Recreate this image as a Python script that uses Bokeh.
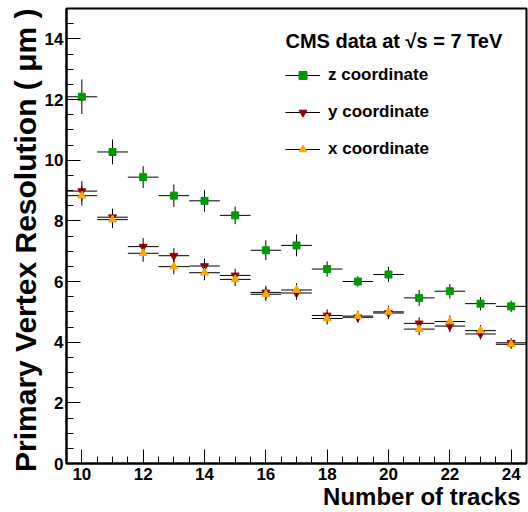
from bokeh.plotting import figure
from bokeh.models import (ColumnDataSource, Range1d, SingleIntervalTicker, Label,
                          Legend, LegendItem, Title)
from bokeh.embed import file_html
from bokeh.resources import INLINE

# ---- data ----
ntracks = [10, 11, 12, 13, 14, 15, 16, 17, 18, 19, 20, 21, 22, 23, 24]
bin_half_width = 0.5
z_res = [12.09, 10.27, 9.44, 8.83, 8.66, 8.18, 7.03, 7.19, 6.41, 6.00, 6.23, 5.46, 5.68, 5.27, 5.18]
z_err = [0.57, 0.41, 0.36, 0.37, 0.36, 0.29, 0.33, 0.36, 0.25, 0.17, 0.25, 0.26, 0.24, 0.22, 0.19]
y_res = [8.98, 8.12, 7.15, 6.85, 6.51, 6.20, 5.64, 5.62, 4.88, 4.82, 4.96, 4.62, 4.53, 4.27, 3.98]
y_err = [0.33, 0.28, 0.28, 0.25, 0.25, 0.22, 0.22, 0.22, 0.20, 0.18, 0.20, 0.20, 0.20, 0.18, 0.15]
x_res = [8.83, 8.04, 6.93, 6.49, 6.29, 6.07, 5.58, 5.72, 4.78, 4.86, 5.00, 4.43, 4.68, 4.38, 3.93]
x_err = [0.33, 0.28, 0.28, 0.25, 0.25, 0.22, 0.22, 0.22, 0.20, 0.18, 0.20, 0.20, 0.20, 0.18, 0.15]

series_names = ["z coordinate", "y coordinate", "x coordinate"]
header_text = "CMS data at \u221as = 7 TeV"
x_title = "Number of tracks"
y_title = "Primary Vertex Resolution ( \u03bcm )"

FONT = "Liberation Sans"

p = figure(width=528, height=512, output_backend="svg", toolbar_location=None,
           x_range=Range1d(9.5, 24.5), y_range=Range1d(0, 15),
           min_border_left=66, min_border_right=2, min_border_top=8, min_border_bottom=49)
p.xgrid.visible = False
p.ygrid.visible = False
p.outline_line_color = "black"
p.outline_line_width = 2
p.background_fill_color = "white"
p.border_fill_color = "white"

for ax in (p.xaxis[0], p.yaxis[0]):
    ax.ticker = SingleIntervalTicker(interval=2, num_minor_ticks=4)
    ax.axis_line_color = "black"
    ax.axis_line_width = 2
    ax.major_tick_in = 14
    ax.major_tick_out = 0
    ax.minor_tick_in = 7
    ax.minor_tick_out = 0
    ax.major_tick_line_color = "black"
    ax.minor_tick_line_color = "black"
    ax.major_label_text_font = FONT
    ax.major_label_text_font_style = "bold"
    ax.major_label_text_font_size = "17px"
    ax.major_label_text_color = "black"
p.xaxis.major_label_standoff = 4
p.yaxis.major_label_standoff = 3


def add_series(vals, errs, color, marker, size):
    src = ColumnDataSource(dict(
        x=ntracks,
        x0=[n - bin_half_width for n in ntracks],
        x1=[n + bin_half_width for n in ntracks],
        y=vals,
        ylo=[v - e for v, e in zip(vals, errs)],
        yhi=[v + e for v, e in zip(vals, errs)],
    ))
    h = p.segment(x0="x0", x1="x1", y0="y", y1="y", source=src, line_color="black", line_width=1)
    p.segment(x0="x", x1="x", y0="ylo", y1="yhi", source=src, line_color="black", line_width=1)
    s = p.scatter(x="x", y="y", source=src, marker=marker, size=size,
                  fill_color=color, line_color=color, line_width=1)
    return h, s


z_h, z_s = add_series(z_res, z_err, "#009900", "square", 7)
y_h, y_s = add_series(y_res, y_err, "#990000", "inverted_triangle", 8)
x_h, x_s = add_series(x_res, x_err, "#ffa500", "triangle", 8)

legend = Legend(items=[
    LegendItem(label=series_names[0], renderers=[z_h, z_s]),
    LegendItem(label=series_names[1], renderers=[y_h, y_s]),
    LegendItem(label=series_names[2], renderers=[x_h, x_s]),
], location=(219, 304))
legend.border_line_color = None
legend.background_fill_alpha = 0
legend.padding = 0
legend.margin = 0
legend.spacing = 17
legend.glyph_width = 35
legend.glyph_height = 20
legend.label_height = 20
legend.label_standoff = 8
legend.label_text_font = FONT
legend.label_text_font_style = "bold"
legend.label_text_font_size = "17px"
legend.label_text_color = "black"
p.add_layout(legend)

p.add_layout(Label(x=219, y=423, x_units="screen", y_units="screen", text=header_text,
                   text_font=FONT, text_font_style="bold", text_font_size="20px",
                   text_color="black", text_align="left", text_baseline="alphabetic"))

p.add_layout(Label(x=454, y=13, x_units="screen", y_units="screen", text=x_title,
                   text_font=FONT, text_font_style="bold", text_font_size="24px",
                   text_color="black", text_align="right", text_baseline="alphabetic"),
             "below")

yt = Title(text=y_title, align="right", text_font=FONT, text_font_style="bold",
           text_font_size="30px", text_color="black", standoff=0, offset=0)
p.add_layout(yt, "left")

open("out.html", "w").write(file_html(p, INLINE))
